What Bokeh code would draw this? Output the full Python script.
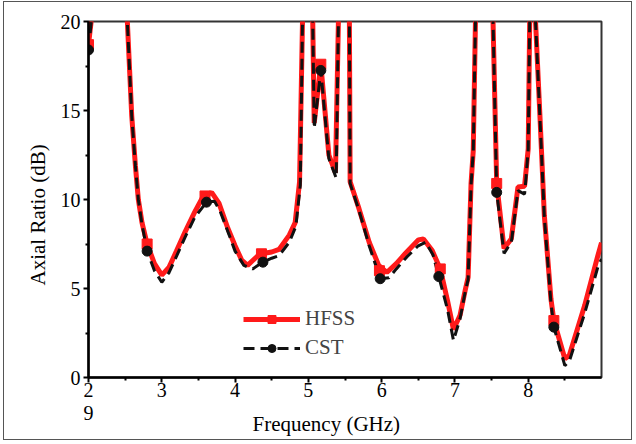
from bokeh.plotting import figure
from bokeh.models import Range1d, Legend, LegendItem, FixedTicker, Title
from bokeh.embed import file_html
from bokeh.resources import INLINE

# ---- data ----
hfss_x = [2.0, 2.05, 2.1, 2.5, 2.53, 2.59, 2.64, 2.68, 2.73, 2.80, 2.9, 3.0, 3.1, 3.2, 3.32, 3.45,
          3.56, 3.68, 3.78, 3.90, 4.0, 4.09, 4.17, 4.3, 4.36, 4.5, 4.6, 4.74, 4.82, 4.88, 4.92,
          4.97, 5.03, 5.06, 5.08, 5.17, 5.28, 5.37, 5.41, 5.46, 5.53, 5.56, 5.57, 5.69, 5.83,
          5.96, 6.07, 6.2, 6.32, 6.5, 6.57, 6.69, 6.80, 6.9, 6.98, 7.07, 7.14, 7.18, 7.22, 7.25,
          7.28, 7.35, 7.45, 7.52, 7.57, 7.67, 7.77, 7.86, 7.95, 8.0, 8.02, 8.05, 8.08, 8.10,
          8.16, 8.22, 8.31, 8.35, 8.50, 8.56, 8.77, 8.95, 9.0]
hfss_y = [18.7, 20.5, 24, 24, 20, 14.7, 11.9, 10.0, 8.7, 7.5, 6.4, 5.75, 6.2, 7.1, 8.2, 9.3,
          10.15, 10.4, 9.8, 8.4, 7.4, 6.6, 6.3, 6.8, 6.95, 7.05, 7.2, 8.0, 8.7, 11.0, 20,
          25, 25, 20, 14.3, 17.6, 12.5, 11.5, 20, 25, 25, 20, 11.0, 9.5, 7.6,
          6.3, 5.9, 6.4, 6.95, 7.73, 7.78, 7.13, 6.1, 4.3, 2.7, 3.5, 4.9, 5.63, 10.9, 12.75,
          20, 25, 25, 20, 10.9, 7.25, 7.8, 10.7, 10.75, 12.85, 20, 24, 24, 20,
          14.7, 9.1, 4.42, 3.2, 1.05, 1.24, 4.04, 6.85, 7.58]

cst_x = [2.0, 2.05, 2.1, 2.5, 2.53, 2.59, 2.64, 2.68, 2.73, 2.80, 2.9, 3.0, 3.1, 3.2, 3.32, 3.45,
         3.61, 3.72, 3.8, 3.92, 4.0, 4.12, 4.24, 4.38, 4.5, 4.6, 4.74, 4.83, 4.89, 4.92,
         4.97, 5.03, 5.06, 5.08, 5.17, 5.28, 5.38, 5.41, 5.46, 5.53, 5.56, 5.57, 5.69, 5.83,
         5.98, 6.1, 6.2, 6.35, 6.5, 6.6, 6.7, 6.78, 6.9, 6.98, 7.07, 7.14, 7.18, 7.22, 7.25,
         7.28, 7.35, 7.45, 7.52, 7.57, 7.67, 7.77, 7.86, 7.95, 7.96, 8.0, 8.02, 8.05, 8.08, 8.10,
         8.16, 8.22, 8.31, 8.35, 8.50, 8.56, 8.77, 8.95, 9.0]
cst_y = [18.4, 20.5, 24, 24, 20, 14.7, 11.9, 10.0, 8.6, 7.1, 6.0, 5.35, 5.9, 6.8, 7.9, 9.0,
         9.85, 9.9, 9.3, 8.0, 7.1, 6.3, 6.1, 6.48, 6.7, 6.85, 7.6, 8.5, 10.8, 20,
         25, 25, 20, 14.0, 17.25, 12.3, 11.2, 20, 25, 25, 20, 10.9, 9.4, 7.4,
         5.55, 5.6, 6.1, 6.8, 7.4, 7.6, 6.9, 5.67, 3.8, 2.08, 3.3, 4.8, 5.5, 10.8, 12.7,
         20, 25, 25, 20, 10.4, 6.97, 7.6, 10.5, 10.3, 10.7, 12.8, 20, 24, 24, 20,
         14.6, 9.0, 4.2, 2.83, 0.67, 0.9, 3.6, 6.2, 6.65]

hfss_marker_x = [2.0, 2.80, 3.59, 4.36, 5.17, 5.97, 6.80, 7.57, 8.35]
hfss_marker_y = [18.7, 7.5, 10.2, 6.95, 17.6, 6.0, 6.1, 10.9, 3.2]
cst_marker_x = [2.0, 2.80, 3.61, 4.38, 5.17, 5.98, 6.78, 7.57, 8.35]
cst_marker_y = [18.4, 7.1, 9.85, 6.48, 17.25, 5.55, 5.67, 10.4, 2.83]

x_ticks = [2, 3, 4, 5, 6, 7, 8]
x_tick_labels = {2: "2\n9"}
x_minor = [2.5, 3.5, 4.5, 5.5, 6.5, 7.5, 8.5]
y_ticks = [0, 5, 10, 15, 20]
y_minor = [2.5, 7.5, 12.5, 17.5]

x_title = "Frequency (GHz)"
y_title = "Axial Ratio (dB)"

FONT = "Liberation Serif"

p = figure(frame_width=513, frame_height=356, x_range=Range1d(2, 9), y_range=Range1d(0, 20),
           output_backend="svg", toolbar_location=None,
           min_border_left=84, min_border_right=30, min_border_top=19, min_border_bottom=62,
           styles={"margin": "1px 0px 0px 3px", "border": "1.5px solid #555"})

p.xgrid.visible = False
p.ygrid.visible = False
p.outline_line_color = "#333333"
p.outline_line_width = 2

for ax in (p.xaxis[0], p.yaxis[0]):
    ax.axis_line_width = 2.5
    ax.axis_line_color = "black"
    ax.major_tick_line_width = 2
    ax.minor_tick_line_width = 2
    ax.major_tick_in = 0
    ax.major_tick_out = 5
    ax.minor_tick_in = 0
    ax.minor_tick_out = 3
    ax.major_label_text_font = FONT
    ax.major_label_text_font_size = "20px"
    ax.major_label_text_color = "black"

p.xaxis.ticker = FixedTicker(ticks=x_ticks, minor_ticks=x_minor)
p.yaxis.ticker = FixedTicker(ticks=y_ticks, minor_ticks=y_minor)
p.xaxis.major_label_overrides = x_tick_labels
p.xaxis.major_label_standoff = -4
p.xaxis.major_label_text_line_height = 1.08
p.yaxis.major_label_standoff = 3

r_hl = p.line(hfss_x, hfss_y, line_color="#ff1a1a", line_width=5)
r_cl = p.line(cst_x, cst_y, line_color="#111111", line_width=3, line_dash="11 6")
r_hm = p.scatter(hfss_marker_x, hfss_marker_y, marker="square", size=10,
                 fill_color="#ff1a1a", line_color="#ff1a1a")
r_cm = p.scatter(cst_marker_x, cst_marker_y, marker="circle", size=10,
                 fill_color="#111111", line_color="#111111")

legend = Legend(items=[LegendItem(label="HFSS", renderers=[r_hl, r_hm]),
                       LegendItem(label="CST", renderers=[r_cl, r_cm])],
                location=(155, 17), border_line_color=None, background_fill_alpha=0,
                label_text_font=FONT, label_text_font_size="21px",
                glyph_width=57, glyph_height=20, spacing=4, padding=0, margin=0,
                label_standoff=5)
p.add_layout(legend)

p.add_layout(Title(text=x_title, align="left", offset=164, vertical_align="top", standoff=-32,
                   text_font=FONT, text_font_size="21px", text_font_style="normal",
                   text_color="black"), "below")
p.add_layout(Title(text=y_title, align="left", offset=92, standoff=16,
                   text_font=FONT, text_font_size="21px", text_font_style="normal",
                   text_color="black"), "left")

open("out.html", "w").write(file_html(p, INLINE))
